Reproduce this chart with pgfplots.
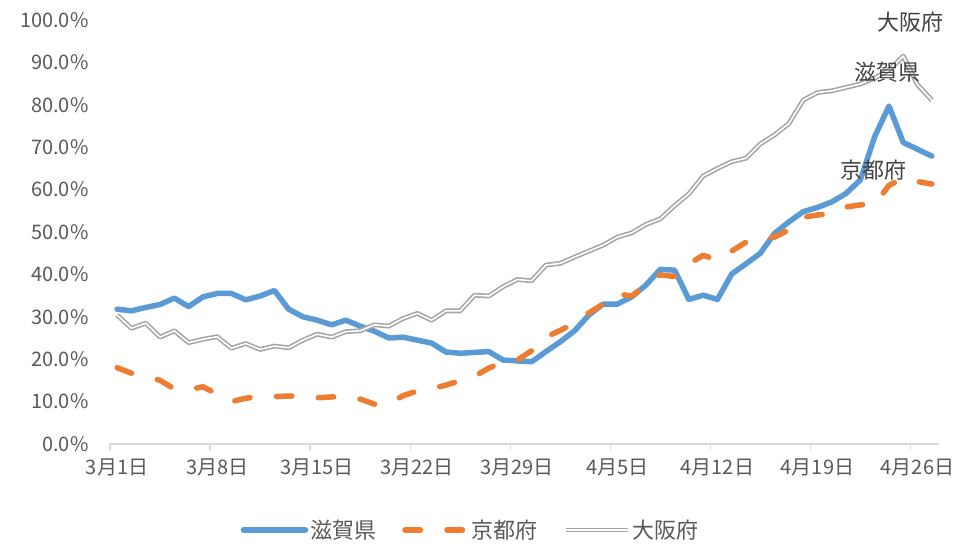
\documentclass[border=0pt]{standalone}
\usepackage{fontspec}
\setmainfont{Noto Sans CJK JP}
\usepackage{pgfplots}
\pgfplotsset{compat=1.18}
\definecolor{shiga}{HTML}{5B9BD5}
\definecolor{kyoto}{HTML}{ED7D31}
\definecolor{osaka}{HTML}{A5A5A5}
\definecolor{txt}{HTML}{595959}
\definecolor{lbl}{HTML}{404040}
\definecolor{axgray}{HTML}{D9D9D9}
\newcommand\md[2]{#1月#2日}

% day index 0 = 3/1, value in %
\pgfplotstableread{
d v
0 31.8
1 31.4
2 32.2
3 32.9
4 34.4
5 32.4
6 34.7
7 35.5
8 35.5
9 34.0
10 34.9
11 36.2
12 31.8
13 30.0
14 29.2
15 28.1
16 29.2
17 27.8
18 26.6
19 25.0
20 25.2
21 24.5
22 23.8
23 21.7
24 21.4
25 21.6
26 21.8
27 19.8
28 19.6
29 19.4
30 21.8
31 24.1
32 26.7
33 30.4
34 33.0
35 33.0
36 34.7
37 37.5
38 41.2
39 41.0
40 34.1
41 35.1
42 34.1
43 40.1
44 42.5
45 45.0
46 49.7
47 52.4
48 54.8
49 55.8
50 57.1
51 59.1
52 62.3
53 72.5
54 79.7
55 71.1
56 69.5
57 67.9
}\shigadata

\pgfplotstableread{
d v
0 18.0
1 16.7
2 16.0
3 15.0
4 13.0
5 12.8
6 13.5
7 11.8
8 10.0
9 10.8
10 11.2
11 11.2
12 11.3
13 11.4
14 10.9
15 11.1
16 11.2
17 10.6
18 9.4
19 9.4
20 11.4
21 12.5
22 13.0
23 13.9
24 14.9
25 16.0
26 17.9
27 19.3
28 19.8
29 22.0
30 25.2
31 26.8
32 28.5
33 30.9
34 33.0
35 35.4
36 34.9
37 37.5
38 39.9
39 39.5
40 42.5
41 44.5
42 43.4
43 45.5
44 47.6
45 48.3
46 48.8
47 50.5
48 53.5
49 54.0
50 54.4
51 55.9
52 56.4
53 56.5
54 61.0
55 62.7
56 61.9
57 61.3
}\kyotodata

\pgfplotstableread{
d v
0 30.4
1 27.3
2 28.5
3 25.2
4 26.7
5 23.9
6 24.7
7 25.3
8 22.6
9 23.7
10 22.3
11 23.1
12 22.7
13 24.5
14 25.9
15 25.2
16 26.5
17 26.7
18 28.1
19 27.8
20 29.6
21 30.8
22 29.2
23 31.4
24 31.4
25 35.1
26 34.9
27 37.1
28 38.8
29 38.5
30 42.2
31 42.6
32 44.1
33 45.5
34 46.9
35 48.8
36 49.8
37 51.8
38 53.1
39 56.2
40 59.0
41 63.2
42 65.0
43 66.6
44 67.4
45 70.8
46 72.9
47 75.6
48 81.1
49 82.9
50 83.3
51 84.1
52 84.9
53 86.3
54 88.2
55 91.5
56 84.7
57 81.1
}\osakadata

\begin{document}
\begin{tikzpicture}
\begin{axis}[
  scale only axis, width=829pt, height=424pt,
  xmin=-0.5, xmax=57.5, ymin=0, ymax=100,
  clip=false,
  axis x line*=bottom, axis y line*=left,
  x axis line style={draw=axgray, line width=1.3pt, -},
  y axis line style={draw=none},
  xtick={-0.5,6.5,...,55.5},
  xticklabels={\md31,\md38,\md3{15},\md3{22},\md3{29},\md45,\md4{12},\md4{19},\md4{26}},
  xticklabel style={xshift=7.1pt, yshift=-5pt},
  ytick={0,10,...,100},
  yticklabels={0.0\%,10.0\%,20.0\%,30.0\%,40.0\%,50.0\%,60.0\%,70.0\%,80.0\%,90.0\%,100.0\%},
  yticklabel style={xshift=-12pt},
  tick align=outside, major tick length=6pt,
  xtick style={draw=axgray, line width=1.3pt},
  ytick style={draw=none},
  tick label style={font=\fontsize{20}{23}\selectfont, text=txt},
  legend style={at={(0.435,-0.203)}, anchor=center, legend columns=3, draw=none,
    font=\fontsize{22}{25}\selectfont, text=txt,
    /tikz/every even column/.append style={column sep=24pt}},
  legend image code/.code={\draw[#1] (0pt,0pt) -- (62pt,0pt);},
]
\addplot[shiga, line width=5.5pt, line join=round, line cap=round] table[x=d,y=v] {\shigadata};
\addlegendentry{滋賀県}
\addplot[kyoto, line width=5.5pt, line join=round, line cap=round, dash pattern=on 15.5pt off 26.5pt] table[x=d,y=v] {\kyotodata};
\addlegendentry{京都府}
\addplot[osaka, line width=1.6pt, double=white, double distance=1.6pt, line join=round] table[x=d,y=v] {\osakadata};
\addlegendentry{大阪府}
\node[text=lbl, font=\fontsize{22}{25}\selectfont] at (axis cs:55.5,99.5) {大阪府};
\node[text=lbl, font=\fontsize{22}{25}\selectfont] at (axis cs:53.9,87.7) {滋賀県};
\node[text=lbl, font=\fontsize{22}{25}\selectfont] at (axis cs:52.9,64.6) {京都府};
\end{axis}
\pgfresetboundingbox
\path (current axis.south west) ++(-110pt,-100pt) coordinate (bbA);
\path (current axis.north east) ++(39pt,20pt) coordinate (bbB);
\path[use as bounding box] (bbA) rectangle (bbB);
\end{tikzpicture}
\end{document}
